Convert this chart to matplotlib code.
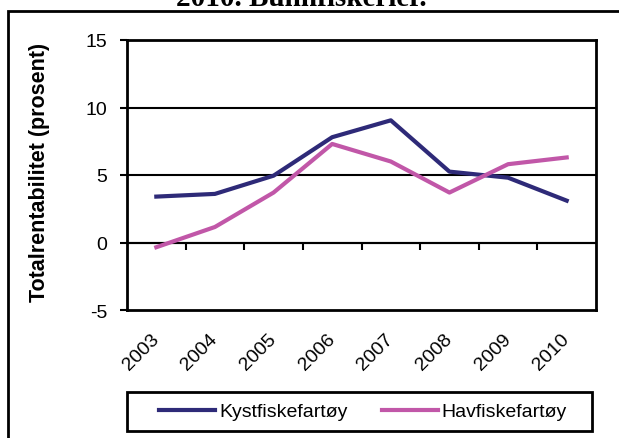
import numpy as np
import matplotlib
matplotlib.use('Agg')
import matplotlib.pyplot as plt
from matplotlib.patches import Rectangle

plt.rcParams['font.family'] = ['Liberation Sans', 'DejaVu Sans']
plt.rcParams['axes.unicode_minus'] = False

years = ['2003', '2004', '2005', '2006', '2007', '2008', '2009', '2010']
kyst  = [3.4, 3.6, 4.95, 7.8, 9.05, 5.25, 4.8, 3.1]
hav   = [-0.35, 1.15, 3.7, 7.3, 6.0, 3.7, 5.8, 6.3]
yticks = [-5, 0, 5, 10, 15]

W, H = 619, 439
fig = plt.figure(figsize=(W/100, H/100), dpi=100)
ax = fig.add_axes([127/W, (H-311)/H, (596-127)/W, 270/H])

x = np.arange(len(years))
ax.plot(x, kyst, color='#2E2A78', lw=3, label='Kystfiskefartøy', zorder=3)
ax.plot(x, hav, color='#C157A8', lw=3, label='Havfiskefartøy', zorder=3)

ax.set_xlim(-0.5, len(years) - 0.5)
ax.set_ylim(-5, 15)
ax.set_yticks(yticks)
ax.tick_params(axis='y', labelsize=14, length=5, width=1.5, pad=9)
for yv in [0, 5, 10]:
    ax.axhline(yv, color='black', lw=1.5, zorder=1)

ax.set_xticks(x)
ax.set_xticklabels(years, rotation=45, ha='right', va='center',
                   rotation_mode='anchor', fontsize=14)
ax.tick_params(axis='x', length=0, pad=19)

# category tick marks on the zero line
sec = ax.secondary_xaxis(0.25)
sec.set_xticks(np.arange(len(years) - 1) + 0.5)
sec.tick_params(axis='x', length=5, width=1.5, direction='out',
                labelbottom=False, labeltop=False)
sec.spines['bottom'].set_linewidth(1.5)

for s in ax.spines.values():
    s.set_linewidth(2)

ax.set_ylabel('Totalrentabilitet (prosent)', fontsize=15.5, fontweight='bold')
ax.yaxis.label.set_va('center')
ax.yaxis.set_label_coords((40 - 127) / 469, (311 - 172.5) / 270)

leg = fig.legend(loc='center', bbox_to_anchor=(363/W, 1 - 412.5/H), ncol=2,
                 fontsize=14, frameon=False, handlelength=2.9,
                 columnspacing=1.75, handletextpad=0.2)
fig.patches.append(Rectangle((127/W, 1 - 432/H), (592-127)/W, 39/H,
                             transform=fig.transFigure, fill=False,
                             edgecolor='black', lw=2))

fig.text(301/W, 1 - 6/H, '2010. Bunnfiskerier.', ha='center', va='baseline',
         fontsize=21, fontweight='bold', family='Liberation Serif')

fig.patches.append(Rectangle((8/W, -0.1), 2, (H-12)/H + 0.1, transform=fig.transFigure,
                             fill=False, edgecolor='black', lw=2, clip_on=False))

fig.savefig('out.png', dpi=100)
